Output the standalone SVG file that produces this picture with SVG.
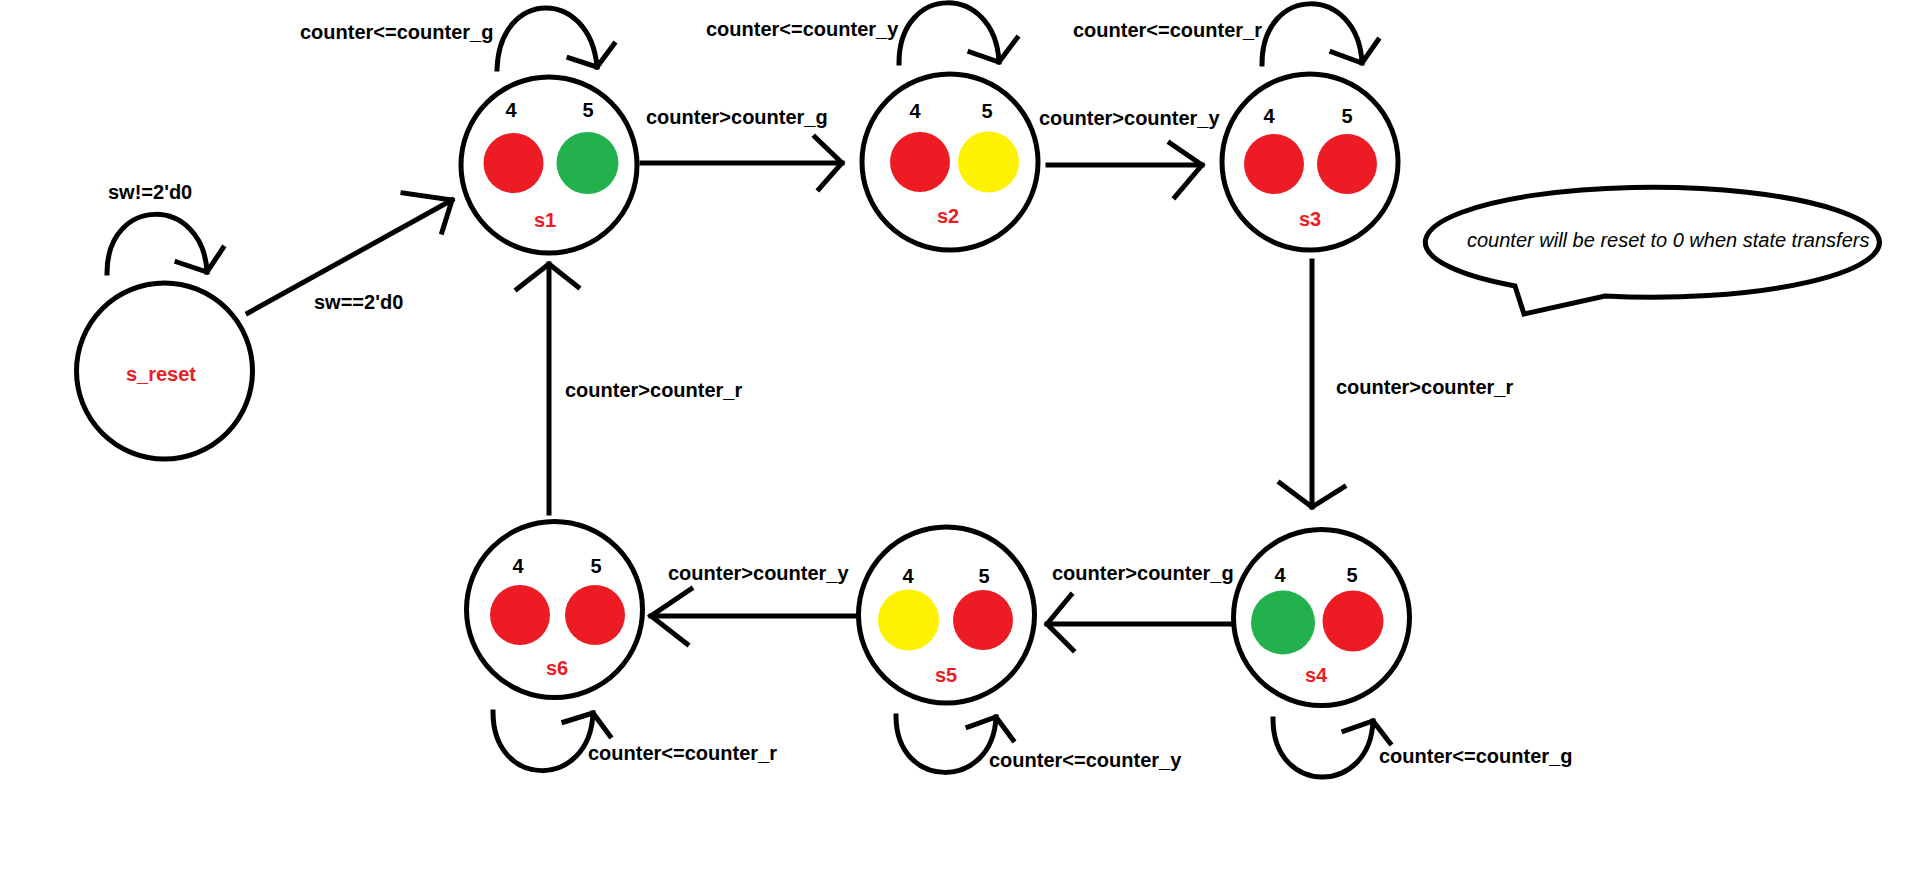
<svg xmlns="http://www.w3.org/2000/svg" width="1914" height="876" viewBox="0 0 1914 876">
<style>
.st{fill:#fff;stroke:#000;stroke-width:5}
.ln{fill:none;stroke:#000;stroke-width:5;stroke-linecap:square;stroke-linejoin:miter}
.lbl{font-family:"Liberation Sans",Arial,sans-serif;font-weight:bold;font-size:20px;fill:#000}
.dg{font-family:"Liberation Sans",Arial,sans-serif;font-weight:bold;font-size:20px;fill:#000;text-anchor:middle}
.nm{font-family:"Liberation Sans",Arial,sans-serif;font-weight:bold;font-size:20px;fill:#ED1C24;text-anchor:middle}
.r{fill:#ED1C24}.g{fill:#22B14C}.y{fill:#FFF200}
.note{font-family:"Liberation Sans",Arial,sans-serif;font-style:italic;font-size:20px;fill:#000}
</style>
<rect width="1914" height="876" fill="#fff"/>
<g id="connectors">
<path class="ln" d="M248,313 L452,200"/><polyline class="ln" points="403,193 452,200 442,232"/>
<path class="ln" d="M642,163 L842,163"/><polyline class="ln" points="815,137 842,163 819,189"/>
<path class="ln" d="M1048,165 L1202,165"/><polyline class="ln" points="1170,143 1202,165 1175,197"/>
<path class="ln" d="M1312,261 L1312,507"/><polyline class="ln" points="1280,483 1312,507 1344,487"/>
<path class="ln" d="M1232,624 L1047,624"/><polyline class="ln" points="1071,595 1047,624 1073,650"/>
<path class="ln" d="M857,616 L651,616"/><polyline class="ln" points="691,589 651,616 687,644"/>
<path class="ln" d="M549,513 L549,264"/><polyline class="ln" points="517,289 549,264 578,287"/>
<path class="ln" d="M107,273 C107,195 203,195 207,272"/><polyline class="ln" points="177,262 207,272 223,248"/>
<path class="ln" d="M497,69 C500,-12 590,-12 597,67"/><polyline class="ln" points="569,58 597,67 614,44"/>
<path class="ln" d="M899,63 C899,-17 995,-17 999,62"/><polyline class="ln" points="970,52 999,62 1017,38"/>
<path class="ln" d="M1262,64 C1262,-16 1358,-16 1362,63"/><polyline class="ln" points="1332,52 1362,63 1378,40"/>
<path class="ln" d="M493,712 C493,790 590,790 593,713"/><polyline class="ln" points="564,722 593,713 610,736"/>
<path class="ln" d="M896,716 C896,791 993,791 996,717"/><polyline class="ln" points="968,727 996,717 1013,740"/>
<path class="ln" d="M1273,719 C1273,796 1370,796 1373,721"/><polyline class="ln" points="1344,731 1373,721 1390,743"/>
<text class="lbl" x="108" y="199">sw!=2'd0</text>
<text class="lbl" x="314" y="309">sw==2'd0</text>
<text class="lbl" x="300" y="39">counter&lt;=counter_g</text>
<text class="lbl" x="706" y="36">counter&lt;=counter_y</text>
<text class="lbl" x="1073" y="37">counter&lt;=counter_r</text>
<text class="lbl" x="646" y="124">counter&gt;counter_g</text>
<text class="lbl" x="1039" y="125">counter&gt;counter_y</text>
<text class="lbl" x="1336" y="394">counter&gt;counter_r</text>
<text class="lbl" x="565" y="397">counter&gt;counter_r</text>
<text class="lbl" x="668" y="580">counter&gt;counter_y</text>
<text class="lbl" x="1052" y="580">counter&gt;counter_g</text>
<text class="lbl" x="588" y="760">counter&lt;=counter_r</text>
<text class="lbl" x="989" y="767">counter&lt;=counter_y</text>
<text class="lbl" x="1379" y="763">counter&lt;=counter_g</text>
</g>
<g id="s_reset">
<circle class="st" cx="164.5" cy="371" r="88"/>
<text class="nm" x="161" y="381">s_reset</text>
</g>
<g id="s1">
<circle class="st" cx="549" cy="165" r="88"/>
<circle class="r" cx="513.5" cy="163" r="30"/><circle class="g" cx="587.5" cy="163" r="31"/>
<text class="dg" x="511" y="117">4</text><text class="dg" x="588" y="117">5</text>
<text class="nm" x="545" y="227">s1</text>
</g>
<g id="s2">
<circle class="st" cx="950" cy="162" r="88"/>
<circle class="r" cx="920" cy="162" r="30"/><circle class="y" cx="988.5" cy="162" r="30.5"/>
<text class="dg" x="915" y="118">4</text><text class="dg" x="987" y="118">5</text>
<text class="nm" x="948" y="223">s2</text>
</g>
<g id="s3">
<circle class="st" cx="1310" cy="162" r="88"/>
<circle class="r" cx="1274" cy="164" r="30"/><circle class="r" cx="1347" cy="164" r="30"/>
<text class="dg" x="1269" y="123">4</text><text class="dg" x="1347" y="123">5</text>
<text class="nm" x="1310" y="226">s3</text>
</g>
<g id="s4">
<circle class="st" cx="1321.5" cy="617.5" r="88"/>
<circle class="g" cx="1283" cy="622.5" r="32"/><circle class="r" cx="1353" cy="621" r="30.5"/>
<text class="dg" x="1280" y="582">4</text><text class="dg" x="1352" y="582">5</text>
<text class="nm" x="1316" y="682">s4</text>
</g>
<g id="s5">
<circle class="st" cx="946.5" cy="615" r="88"/>
<circle class="y" cx="908.5" cy="620" r="30.5"/><circle class="r" cx="983" cy="620" r="30"/>
<text class="dg" x="908" y="583">4</text><text class="dg" x="984" y="583">5</text>
<text class="nm" x="946" y="682">s5</text>
</g>
<g id="s6">
<circle class="st" cx="554.5" cy="609.5" r="88"/>
<circle class="r" cx="520" cy="615" r="30"/><circle class="r" cx="595" cy="615" r="30"/>
<text class="dg" x="518" y="573">4</text><text class="dg" x="596" y="573">5</text>
<text class="nm" x="557" y="675">s6</text>
</g>
<g id="note">
<path class="st" d="M1515,286 L1524,314 L1605,296 A227,55 0 1 0 1515,286 Z"/>
<text class="note" x="1467" y="247">counter will be reset to 0 when state transfers</text>
</g>
</svg>
